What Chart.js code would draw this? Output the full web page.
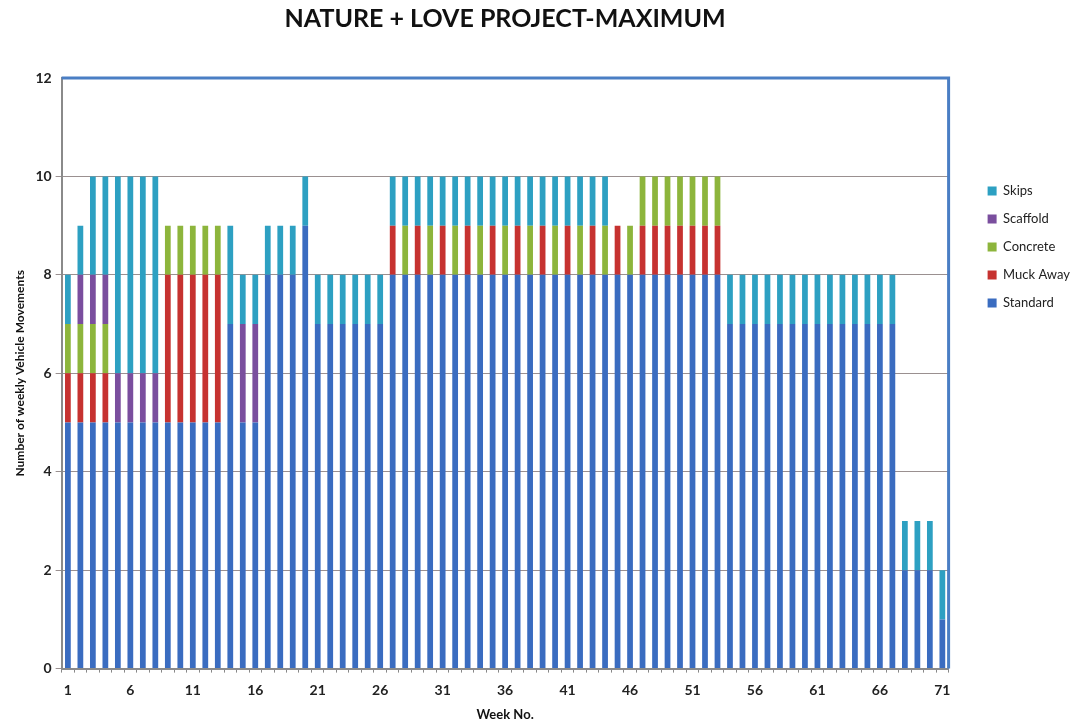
<!DOCTYPE html>
<html>
<head>
<meta charset="utf-8">
<script src="https://cdn.jsdelivr.net/npm/chart.js@4"></script>
<style>
  html, body { margin: 0; padding: 0; background: #fff; }
  #wrap { width: 1086px; height: 724px; }
</style>
</head>
<body>
<div id="wrap"><canvas id="grafica_movimientos"></canvas></div>
<script>
// weeks 1..71
const weeks = [];
for (let w = 1; w <= 71; w++) weeks.push(String(w));

//                 1  2  3  4  5  6  7  8  9 10 11 12 13 14 15 16 17 18 19 20
const standard = [ 5, 5, 5, 5, 5, 5, 5, 5, 5, 5, 5, 5, 5, 7, 5, 5, 8, 8, 8, 9,
  // 21-26
  7, 7, 7, 7, 7, 7,
  // 27-53
  8, 8, 8, 8, 8, 8, 8, 8, 8, 8, 8, 8, 8, 8, 8, 8, 8, 8, 8, 8, 8, 8, 8, 8, 8, 8, 8,
  // 54-67
  7, 7, 7, 7, 7, 7, 7, 7, 7, 7, 7, 7, 7, 7,
  // 68-71
  2, 2, 2, 1];

const muckAway = [ 1, 1, 1, 1, 0, 0, 0, 0, 3, 3, 3, 3, 3, 0, 0, 0, 0, 0, 0, 0,
  0, 0, 0, 0, 0, 0,
  1, 0, 1, 0, 1, 0, 1, 0, 1, 0, 1, 0, 1, 0, 1, 0, 1, 0, 1, 0, 1, 1, 1, 1, 1, 1, 1,
  0, 0, 0, 0, 0, 0, 0, 0, 0, 0, 0, 0, 0, 0,
  0, 0, 0, 0];

const concrete = [ 1, 1, 1, 1, 0, 0, 0, 0, 1, 1, 1, 1, 1, 0, 0, 0, 0, 0, 0, 0,
  0, 0, 0, 0, 0, 0,
  0, 1, 0, 1, 0, 1, 0, 1, 0, 1, 0, 1, 0, 1, 0, 1, 0, 1, 0, 1, 1, 1, 1, 1, 1, 1, 1,
  0, 0, 0, 0, 0, 0, 0, 0, 0, 0, 0, 0, 0, 0,
  0, 0, 0, 0];

const scaffold = [ 0, 1, 1, 1, 1, 1, 1, 1, 0, 0, 0, 0, 0, 0, 2, 2, 0, 0, 0, 0,
  0, 0, 0, 0, 0, 0,
  0, 0, 0, 0, 0, 0, 0, 0, 0, 0, 0, 0, 0, 0, 0, 0, 0, 0, 0, 0, 0, 0, 0, 0, 0, 0, 0,
  0, 0, 0, 0, 0, 0, 0, 0, 0, 0, 0, 0, 0, 0,
  0, 0, 0, 0];

const skips = [ 1, 1, 2, 2, 4, 4, 4, 4, 0, 0, 0, 0, 0, 2, 1, 1, 1, 1, 1, 1,
  1, 1, 1, 1, 1, 1,
  1, 1, 1, 1, 1, 1, 1, 1, 1, 1, 1, 1, 1, 1, 1, 1, 1, 1, 0, 0, 0, 0, 0, 0, 0, 0, 0,
  1, 1, 1, 1, 1, 1, 1, 1, 1, 1, 1, 1, 1, 1,
  1, 1, 1, 1];

const yTicks = [0, 2, 4, 6, 8, 10, 12];

const FONT = "Lato, 'Open Sans', sans-serif";

// blue frame on top and right of the plot area
const plotFrame = {
  id: 'plotFrame',
  afterDraw(chart) {
    const { ctx, chartArea: a } = chart;
    ctx.save();
    ctx.strokeStyle = '#4A7EC4';
    ctx.lineWidth = 3;
    ctx.beginPath();
    ctx.moveTo(a.left, a.top);
    ctx.lineTo(a.right, a.top);
    ctx.lineTo(a.right, a.bottom);
    ctx.stroke();
    ctx.restore();
  }
};

const ds = (label, data, color) => ({
  label: label,
  data: data,
  backgroundColor: color,
  borderWidth: 0,
  barPercentage: 0.46,
  categoryPercentage: 1
});

const ctx = document.getElementById('grafica_movimientos').getContext('2d');
new Chart(ctx, {
  type: 'bar',
  data: {
    labels: weeks,
    datasets: [
      ds('Standard', standard, '#3A6CC0'),
      ds('Muck Away', muckAway, '#C63230'),
      ds('Concrete', concrete, '#8DB53C'),
      ds('Scaffold', scaffold, '#7A4E9E'),
      ds('Skips', skips, '#2DA0C2')
    ]
  },
  plugins: [plotFrame],
  options: {
    responsive: true,
    maintainAspectRatio: false,
    animation: false,
    layout: { padding: { left: 13, right: 6, top: 2, bottom: 1 } },
    plugins: {
      title: {
        display: true,
        fullSize: false,
        text: 'NATURE + LOVE PROJECT-MAXIMUM',
        color: '#111',
        font: { family: FONT, size: 25, weight: 'bold' },
        padding: { top: 2, bottom: 44 }
      },
      legend: {
        position: 'right',
        align: 'start',
        reverse: true,
        title: { display: true, text: ' ', padding: { top: 153, bottom: 0 } },
        labels: {
          boxWidth: 9,
          boxHeight: 9,
          padding: 15,
          color: '#222',
          font: { family: FONT, size: 13 }
        }
      },
      tooltip: { enabled: false }
    },
    scales: {
      x: {
        stacked: true,
        grid: {
          display: true,
          drawOnChartArea: false,
          tickLength: 4,
          color: '#888'
        },
        border: { color: '#8A8A8A', width: 2 },
        ticks: {
          autoSkip: false,
          maxRotation: 0,
          padding: 9,
          color: '#222',
          font: { family: FONT, size: 14, weight: 'bold' },
          callback: (v, i) => (i % 5 === 0 ? weeks[i] : '')
        },
        title: {
          display: true,
          text: 'Week No.',
          color: '#111',
          font: { family: FONT, size: 13, weight: 'bold' },
          padding: { top: 0, bottom: 0 }
        }
      },
      y: {
        stacked: true,
        min: 0,
        max: 12,
        afterBuildTicks: (s) => { s.ticks = yTicks.map(v => ({ value: v })); },
        grid: {
          color: (c) => (c.tick && c.tick.value === 12 ? 'rgba(0,0,0,0)' : '#9A9090'),
          lineWidth: 1,
          tickLength: 6
        },
        border: { color: '#8A8A8A', width: 2 },
        ticks: {
          padding: 4,
          color: '#222',
          font: { family: FONT, size: 14, weight: 'bold' }
        },
        title: {
          display: true,
          text: 'Number of weekly Vehicle Movements',
          color: '#111',
          font: { family: FONT, size: 12, weight: 'bold' },
          padding: { top: 0, bottom: 4 }
        }
      },
      // empty right-hand gap between the plot frame and the legend
      gap: {
        type: 'linear',
        position: 'right',
        display: true,
        grid: { display: false, drawOnChartArea: false },
        border: { display: false },
        ticks: { display: false },
        afterFit: (s) => { s.width = 24; }
      }
    }
  }
});
</script>
</body>
</html>
